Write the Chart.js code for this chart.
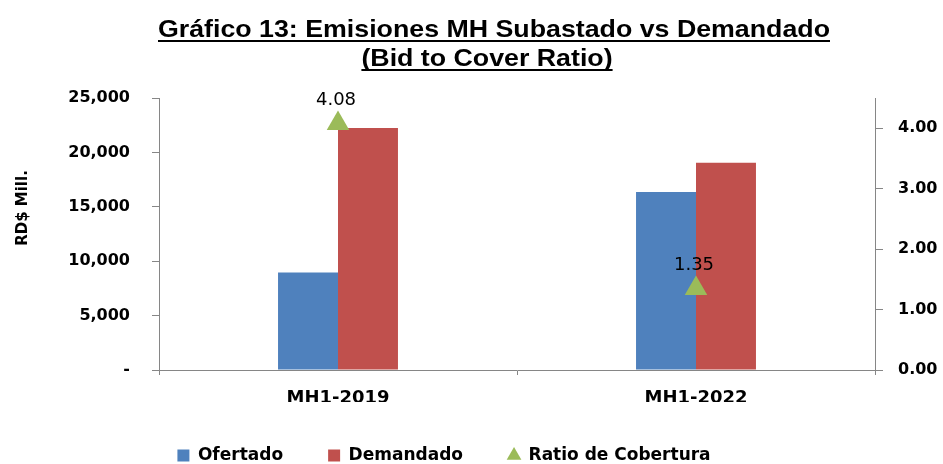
<!DOCTYPE html>
<html>
<head>
<meta charset="utf-8">
<script src="https://cdn.jsdelivr.net/npm/chart.js@4.4.1/dist/chart.umd.min.js"></script>
<style>
  html, body { margin: 0; padding: 0; background: #fff; }
  #wrap { width: 943px; height: 464px; }
</style>
</head>
<body>
<div id="wrap"><canvas id="canvas" width="943" height="464"></canvas></div>
<script>
// values
var categories = ['MH1-2019', 'MH1-2022'];
var ofertado = [8950, 16350];
var demandado = [22250, 19050];
var ratio = [4.08, 1.35];
var titleLines = ['Gráfico 13: Emisiones MH Subastado vs Demandado', '(Bid to Cover Ratio)'];

var AXIS = '#868686';
Chart.defaults.font.family = 'DejaVu Sans';
Chart.defaults.color = '#000';

// title with underline, drawn on the canvas (condensed Arial-like)
var titlePlugin = {
  id: 'titleU',
  afterDraw: function(chart) {
    var ctx = chart.ctx;
    ctx.save();
    ctx.font = 'bold 24px "Liberation Sans"';
    var w1 = ctx.measureText(titleLines[0]).width;
    var k = 672 / w1;
    var pos = [[494, 37], [487, 66]];
    titleLines.forEach(function(t, i) {
      var w = ctx.measureText(t).width * k;
      var cx = pos[i][0], by = pos[i][1];
      ctx.save();
      ctx.translate(cx - w / 2, by);
      ctx.scale(k, 1);
      ctx.fillStyle = '#000';
      ctx.textBaseline = 'alphabetic';
      ctx.fillText(t, 0, 0);
      ctx.restore();
      ctx.fillRect(cx - w / 2, by + 3, w, 2);
    });
    // y axis title
    ctx.translate(23, 208);
    ctx.rotate(-Math.PI / 2);
    ctx.font = 'bold 15px "DejaVu Sans"';
    ctx.textAlign = 'center';
    ctx.textBaseline = 'middle';
    ctx.fillText('RD$ Mill.', 0, 0);
    ctx.restore();
  }
};

// value labels above the triangles
var labelPlugin = {
  id: 'ratioLabels',
  afterDatasetsDraw: function(chart) {
    var ctx = chart.ctx;
    var meta = chart.getDatasetMeta(2);
    ctx.save();
    ctx.font = '18px "DejaVu Sans"';
    ctx.fillStyle = '#000';
    ctx.textAlign = 'center';
    ctx.textBaseline = 'alphabetic';
    meta.data.forEach(function(pt, i) {
      ctx.fillText(ratio[i].toFixed(2), pt.x - 2, pt.y - 18);
    });
    ctx.restore();
  }
};

var ctx = document.getElementById('canvas').getContext('2d');
var chart = new Chart(ctx, {
  type: 'bar',
  data: {
    labels: categories,
    datasets: [{
      label: 'Ofertado',
      data: ofertado,
      backgroundColor: '#4F81BD',
      pointStyle: 'rect',
      yAxisID: 'y',
      order: 1,
      categoryPercentage: 0.335,
      barPercentage: 1
    }, {
      label: 'Demandado',
      data: demandado,
      backgroundColor: '#C0504D',
      pointStyle: 'rect',
      yAxisID: 'y',
      order: 1,
      categoryPercentage: 0.335,
      barPercentage: 1
    }, {
      type: 'line',
      label: 'Ratio de Cobertura',
      data: ratio,
      yAxisID: 'y1',
      showLine: false,
      pointStyle: 'triangle',
      pointRadius: 13,
      pointHoverRadius: 13,
      backgroundColor: '#9BBB59',
      borderColor: '#9BBB59',
      pointBorderWidth: 0,
      order: 0
    }]
  },
  options: {
    responsive: false,
    animation: false,
    layout: { padding: { top: 98, left: -55, right: 0, bottom: -10 } },
    plugins: {
      title: { display: false },
      tooltip: { enabled: false },
      legend: {
        position: 'bottom',
        labels: {
          usePointStyle: true,
          boxWidth: 12,
          boxHeight: 12,
          padding: 45,
          font: { size: 17, weight: 'bold' },
          color: '#000',
          sort: function(a, b) { return a.datasetIndex - b.datasetIndex; }
        }
      }
    },
    scales: {
      x: {
        grid: { drawOnChartArea: false, tickLength: 5, color: AXIS },
        border: { color: AXIS },
        ticks: { font: { size: 18, weight: 'bold' }, padding: 13, color: '#000' },
        afterFit: function(s) { s.height = 32; }
      },
      y: {
        position: 'left',
        min: 0,
        max: 25000,
        grid: { drawOnChartArea: false, tickLength: 7, color: AXIS },
        border: { color: AXIS },
        ticks: {
          stepSize: 5000,
          padding: 22,
          font: { size: 16, weight: 'bold' },
          color: '#000',
          callback: function(v) { return v === 0 ? '-' : v.toLocaleString('en-US'); }
        },
        afterFit: function(s) { s.width = 214; }
      },
      y1: {
        position: 'right',
        min: 0,
        max: 4.5,
        grid: { drawOnChartArea: false, tickLength: 8, color: AXIS },
        border: { color: AXIS },
        ticks: {
          stepSize: 1,
          padding: 15,
          font: { size: 16, weight: 'bold' },
          color: '#000',
          callback: function(v) { return v.toFixed(2); }
        },
        afterBuildTicks: function(s) {
          s.ticks = s.ticks.filter(function(t) { return Number.isInteger(t.value); });
        },
        afterFit: function(s) { s.width = 68; }
      }
    }
  },
  plugins: [titlePlugin, labelPlugin]
});
</script>
</body>
</html>
